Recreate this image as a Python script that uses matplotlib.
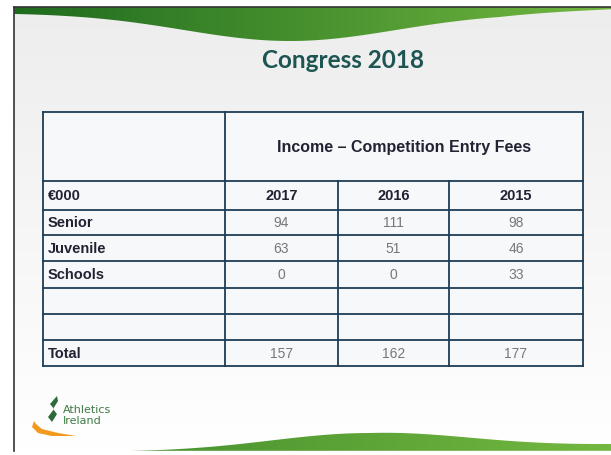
import numpy as np
import matplotlib.pyplot as plt
from matplotlib.patches import Polygon

# table data
col_years = ['2017', '2016', '2015']
row_labels = ['Senior', 'Juvenile', 'Schools', '', '', 'Total']
senior = [94, 111, 98]
juvenile = [63, 51, 46]
schools = [0, 0, 33]
total = [157, 162, 177]

title = 'Congress 2018'
header = 'Income \u2013 Competition Entry Fees'
unit_label = '\u20ac000'

# layout in pixel coords
W, H = 611, 456
col_x = [43, 225, 338, 449, 583]
row_y = [113, 182, 211, 236, 262, 289, 315, 341, 367]

fig = plt.figure(figsize=(W / 100, H / 100), dpi=100)
ax = fig.add_axes([0, 0, 1, 1])
ax.set_xlim(0, W)
ax.set_ylim(H, 0)
ax.axis('off')

# slide background (light grey to white)
grad = np.linspace(0, 1, 200)[:, None]
bg = np.ones((200, 1, 3))
bg[:, 0, :] = (0.93 + 0.07 * grad)
ax.imshow(bg, extent=[14, W, 452, 8], aspect='auto', zorder=0)

# slide frame
ax.plot([14, 14], [8, 452], color='#333333', lw=1.2, zorder=3)
ax.plot([14, W], [8, 8], color='#333333', lw=1.2, zorder=3)

# top green wave
xt = np.linspace(14, W, 200)
yt_bottom = 14 + 28 * np.exp(-((xt - 290) / 150) ** 2) - 4 * (xt > 500) * (xt - 500) / 111
top_pts = np.column_stack([np.r_[xt, xt[::-1]], np.r_[np.full_like(xt, 8), yt_bottom[::-1]]])
gimg = np.zeros((1, 200, 3))
c1 = np.array([0.12, 0.42, 0.12])
c2 = np.array([0.45, 0.72, 0.25])
for i, t in enumerate(np.linspace(0, 1, 200)):
    gimg[0, i] = c1 * (1 - t) + c2 * t
poly_top = Polygon(top_pts, closed=True, facecolor='none', edgecolor='none')
ax.add_patch(poly_top)
im1 = ax.imshow(gimg, extent=[14, W, 45, 8], aspect='auto', zorder=2)
im1.set_clip_path(poly_top)

# bottom green wave
xb = np.linspace(130, W, 200)
yb_top = 453 - 19 * np.exp(-((xb - 370) / 140) ** 2) - 7 * np.clip((xb - 370) / 240, 0, 1)
yb_top = np.minimum(yb_top, 452)
bot_pts = np.column_stack([np.r_[xb, xb[::-1]], np.r_[yb_top, np.full_like(xb, 456)[::-1]]])
poly_bot = Polygon(bot_pts, closed=True, facecolor='none', edgecolor='none')
ax.add_patch(poly_bot)
bimg = np.zeros((1, 200, 3))
for i, t in enumerate(np.linspace(0, 1, 200)):
    bimg[0, i] = (c1 * 0.5 + c2 * 0.5) * (1 - t) + c2 * t
im2 = ax.imshow(bimg, extent=[130, W, 456, 425], aspect='auto', zorder=2)
im2.set_clip_path(poly_bot)
ax.fill_between([0, W], 452, 456, color='white', zorder=2.5)

# title
ax.text(343, 60, title, ha='center', va='center', fontsize=17.5, fontweight='bold',
        color='#1d5552', family='Lato', zorder=4)

# table
ax.fill_between([col_x[0], col_x[-1]], row_y[0], row_y[-1], color='#f7f8fa', zorder=3)
line_c = '#1e3d55'
for y in row_y:
    ax.plot([col_x[0], col_x[-1]], [y, y], color=line_c, lw=1.3, zorder=4)
ax.plot([col_x[0], col_x[0]], [row_y[0], row_y[-1]], color=line_c, lw=1.3, zorder=4)
ax.plot([col_x[-1], col_x[-1]], [row_y[0], row_y[-1]], color=line_c, lw=1.3, zorder=4)
ax.plot([col_x[1], col_x[1]], [row_y[0], row_y[-1]], color=line_c, lw=1.3, zorder=4)
for x in col_x[2:4]:
    ax.plot([x, x], [row_y[1], row_y[-1]], color=line_c, lw=1.3, zorder=4)

txt_c = '#222233'
font = 'Liberation Sans'
ax.text((col_x[1] + col_x[-1]) / 2, (row_y[0] + row_y[1]) / 2, header, ha='center', va='center',
        fontsize=11.5, fontweight='bold', color=txt_c, family=font, zorder=5)
ax.text(col_x[0] + 5, (row_y[1] + row_y[2]) / 2, unit_label, ha='left', va='center',
        fontsize=10.5, fontweight='bold', color=txt_c, family=font, zorder=5)
for j, yr in enumerate(col_years):
    ax.text((col_x[j + 1] + col_x[j + 2]) / 2, (row_y[1] + row_y[2]) / 2, yr, ha='center',
            va='center', fontsize=10.5, fontweight='bold', color=txt_c, family=font, zorder=5)

rows = [senior, juvenile, schools, None, None, total]
for i, (lab, vals) in enumerate(zip(row_labels, rows)):
    yc = (row_y[i + 2] + row_y[i + 3]) / 2
    if lab:
        ax.text(col_x[0] + 5, yc, lab, ha='left', va='center', fontsize=10.5, fontweight='bold',
                color=txt_c, family=font, zorder=5)
    if vals is not None:
        for j, v in enumerate(vals):
            ax.text((col_x[j + 1] + col_x[j + 2]) / 2, yc, str(v), ha='center', va='center',
                    fontsize=10, color='#777777', family=font, zorder=5)

# logo
ax.text(63, 410, 'Athletics', fontsize=8, color='#3f7a45', va='center', ha='left', zorder=5)
ax.text(63, 421, 'Ireland', fontsize=8, color='#3f7a45', va='center', ha='left', zorder=5)
leaf = Polygon([[57, 397], [50, 405], [54, 410], [48, 418], [52, 423], [57, 415], [53, 410], [58, 402]],
               closed=True, facecolor='#2e6b3a', edgecolor='none', zorder=5)
ax.add_patch(leaf)
swoosh = Polygon([[34, 422], [32, 428], [38, 434], [52, 437], [76, 437], [58, 434], [42, 430], [36, 425]],
                 closed=True, facecolor='#f39a1e', edgecolor='none', zorder=5)
ax.add_patch(swoosh)

fig.savefig('out.png', dpi=100)
